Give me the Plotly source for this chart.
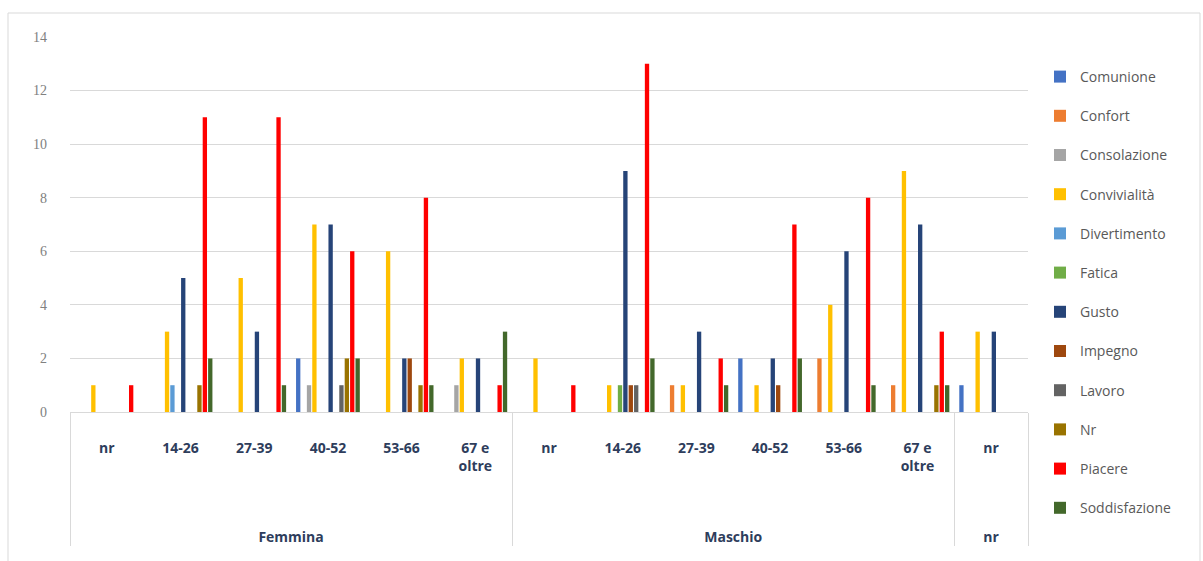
import plotly.graph_objects as go

# Category levels: sex group and age band
groups = ["Femmina"] * 6 + ["Maschio"] * 6 + ["nr"]
ages = ["nr", "14-26", "27-39", "40-52", "53-66", "67 e<br>oltre",
        "nr", "14-26", "27-39", "40-52", "53-66", "67 e<br>oltre",
        "nr"]

# Counts per motivation, one value per (group, age) category
comunione     = [0, 0, 0, 2, 0, 0, 0, 0, 0, 2, 0, 0, 1]
confort       = [0, 0, 0, 0, 0, 0, 0, 0, 1, 0, 2, 1, 0]
consolazione  = [0, 0, 0, 1, 0, 1, 0, 0, 0, 0, 0, 0, 0]
convivialita  = [1, 3, 5, 7, 6, 2, 2, 1, 1, 1, 4, 9, 3]
divertimento  = [0, 1, 0, 0, 0, 0, 0, 0, 0, 0, 0, 0, 0]
fatica        = [0, 0, 0, 0, 0, 0, 0, 1, 0, 0, 0, 0, 0]
gusto         = [0, 5, 3, 7, 2, 2, 0, 9, 3, 2, 6, 7, 3]
impegno       = [0, 0, 0, 0, 2, 0, 0, 1, 0, 1, 0, 0, 0]
lavoro        = [0, 0, 0, 1, 0, 0, 0, 1, 0, 0, 0, 0, 0]
nr_risposta   = [0, 1, 0, 2, 1, 0, 0, 0, 0, 0, 0, 1, 0]
piacere       = [1, 11, 11, 6, 8, 1, 1, 13, 2, 7, 8, 3, 0]
soddisfazione = [0, 2, 1, 2, 1, 3, 0, 2, 1, 2, 1, 1, 0]

series = [
    ("Comunione", comunione, "#4472C4"),
    ("Confort", confort, "#ED7D31"),
    ("Consolazione", consolazione, "#A5A5A5"),
    ("Convivialità", convivialita, "#FFC000"),
    ("Divertimento", divertimento, "#5B9BD5"),
    ("Fatica", fatica, "#70AD47"),
    ("Gusto", gusto, "#264478"),
    ("Impegno", impegno, "#9E480E"),
    ("Lavoro", lavoro, "#636363"),
    ("Nr", nr_risposta, "#997300"),
    ("Piacere", piacere, "#FF0000"),
    ("Soddisfazione", soddisfazione, "#43682B"),
]

# Group labels sit well below the age bands: pad them with empty lines
group_text = ["<br><br><br><br>" + g for g in groups]

fig = go.Figure()
for name, vals, color in series:
    fig.add_trace(go.Bar(
        name=name,
        x=[group_text, ages],
        y=vals,
        marker=dict(color=color, line=dict(width=0)),
        legendgroup=name,
    ))

W, H = 1203, 561
L, R, T, B = 70, 175, 37, 149
pw, ph = W - L - R, H - T - B

fig.update_layout(
    width=W, height=H,
    margin=dict(l=L, r=R, t=T, b=B),
    paper_bgcolor="white",
    plot_bgcolor="white",
    barmode="group",
    bargap=0.12,
    bargroupgap=0.2,
    font=dict(family="Open Sans, sans-serif", color="#595959"),
    legend=dict(
        x=(1040 - L) / pw, y=(H - B - 61) / ph,
        xanchor="left", yanchor="top",
        font=dict(size=14, color="#595959", family="Open Sans, sans-serif"),
        tracegroupgap=18,
        itemwidth=30,
        maxheight=540,
        bgcolor="rgba(0,0,0,0)",
    ),
    xaxis=dict(
        type="multicategory",
        showgrid=False,
        showline=True,
        linecolor="#D9D9D9",
        linewidth=1,
        showdividers=True,
        dividercolor="#D9D9D9",
        dividerwidth=1,
        tickfont=dict(size=14, color="#2E3D5C", family="Open Sans, sans-serif", weight="bold"),
        ticks="",
        ticklabelstandoff=23,
    ),
    yaxis=dict(
        range=[0, 14],
        dtick=2,
        showgrid=True,
        gridcolor="#D9D9D9",
        gridwidth=1,
        zeroline=False,
        showline=False,
        tickfont=dict(size=14, color="#808080", family="Liberation Serif, serif"),
        ticklabelstandoff=22,
    ),
    shapes=[dict(
        type="rect", xref="paper", yref="paper",
        x0=(8 - L) / pw, x1=(1200 - L) / pw,
        y0=(H - B - 575) / ph, y1=(H - B - 13) / ph,
        line=dict(color="#D9D9D9", width=1),
        fillcolor="rgba(0,0,0,0)", layer="below",
    )],
)

fig.write_html("out.html")
